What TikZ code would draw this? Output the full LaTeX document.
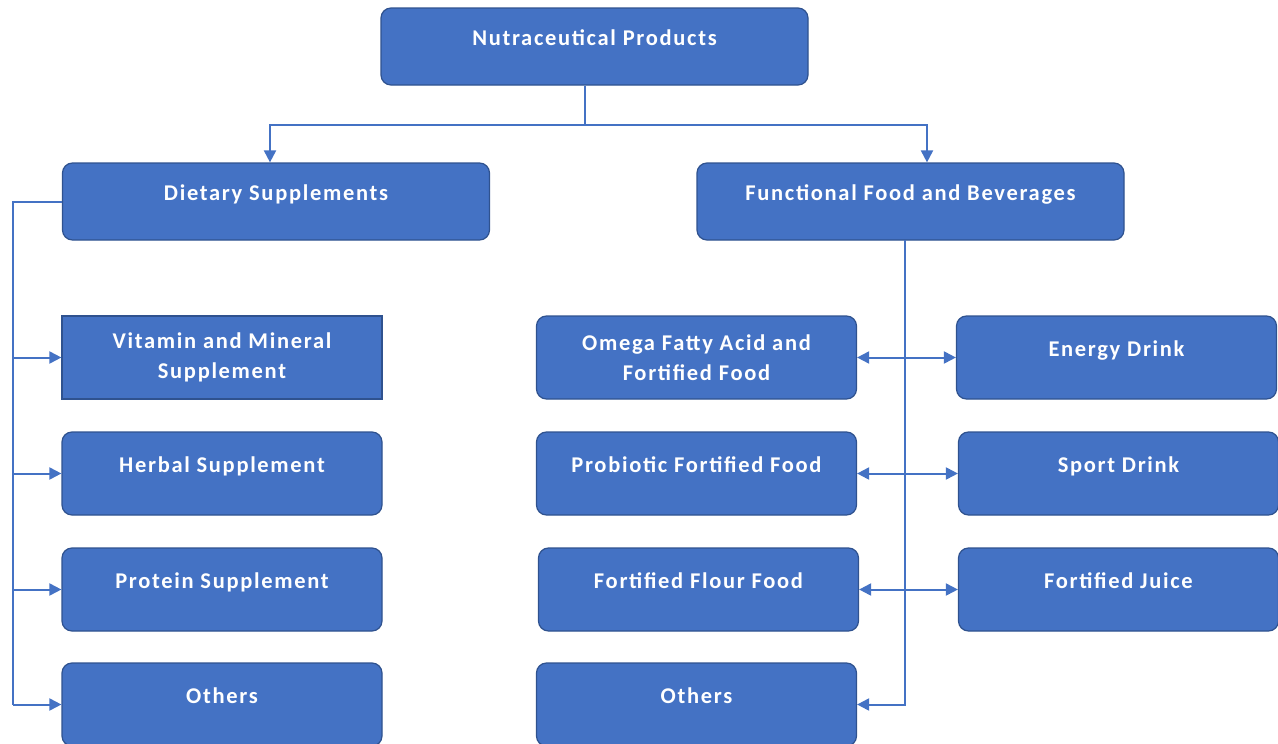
\documentclass[tikz,border=0pt]{standalone}
\usepackage{fontspec}
\setmainfont{Carlito}
\newfontfamily\boxfont{Carlito}[LetterSpace=7.5]
\usetikzlibrary{arrows.meta}
\definecolor{boxblue}{HTML}{4472C4}
\definecolor{edgeblue}{HTML}{2F528F}
\tikzset{
	box/.style={draw=edgeblue, fill=boxblue, line width=1.2pt, rounded corners=10pt, text=white,
		align=center, font=\boxfont\bfseries\fontsize{22.5}{30}\selectfont, minimum width=320pt, minimum height=83pt, inner sep=0pt},
	wide/.style={minimum width=427pt, minimum height=77pt},
	upper/.style={text depth=18pt},
	link/.style={draw=boxblue, line width=2pt},
	arrow/.style={link, -{Triangle[length=12pt,width=12pt]}},
	both/.style={link, {Triangle[length=12pt,width=12pt]}-{Triangle[length=12pt,width=12pt]}},
}
\begin{document}
\begin{tikzpicture}[x=1pt, y=-1pt]
		\useasboundingbox (0,0) rectangle (1278,744);

		% верхний уровень
		\node [box, wide, upper] (np) at ( 594.5, 46.5 ) {Nutraceutical Products};
		\node [box, wide, upper] (ds) at ( 276.0, 201.5 ) {Dietary Supplements};
		\node [box, wide, upper] (ffb) at ( 910.5, 201.5 ) {Functional Food and Beverages};

		% добавки
		\node [box, sharp corners] (vm) at ( 222.0, 357.5 ) {Vitamin and Mineral\\Supplement};
		\node [box, upper] (hs) at ( 222.0, 473.5 ) {Herbal Supplement};
		\node [box, upper] (ps) at ( 222.0, 589.5 ) {Protein Supplement};
		\node [box, upper] (ol) at ( 222.0, 704.5 ) {Others};

		% продукты
		\node [box] (ofa) at ( 696.5, 357.5 ) {Omega Fatty Acid and\\Fortified Food};
		\node [box, upper] (pff) at ( 696.5, 473.5 ) {Probiotic Fortified Food};
		\node [box, upper] (ffl) at ( 698.5, 589.5 ) {Fortified Flour Food};
		\node [box, upper] (or) at ( 696.5, 704.5 ) {Others};

		% напитки
		\node [box, upper] (ed) at ( 1116.5, 357.5 ) {Energy Drink};
		\node [box, upper] (sd) at ( 1118.5, 473.5 ) {Sport Drink};
		\node [box, upper] (fj) at ( 1118.5, 589.5 ) {Fortified Juice};

		% связи
		\coordinate (split) at ( 585, 125 );
		\coordinate (lt) at ( 13, 201.5 );
		\coordinate (rt) at ( 905, 240 );

		\draw [link] (split |- np.south) -- (split);
		\draw [arrow] (split) -| ([xshift=-6pt]ds.north);
		\draw [arrow] (split) -| ([xshift=16.5pt]ffb.north);

		\draw [link] (ds.west) -- (lt) -- (lt |- ol.west);
		\draw [arrow] (lt |- vm.west) -- (vm.west);
		\draw [arrow] (lt |- hs.west) -- (hs.west);
		\draw [arrow] (lt |- ps.west) -- (ps.west);
		\draw [arrow] (lt |- ol.west) -- (ol.west);

		\draw [arrow] (rt) |- (or.east);
		\draw [both] (ofa.east) -- (ed.west);
		\draw [both] (pff.east) -- (sd.west);
		\draw [both] (ffl.east) -- (fj.west);
\end{tikzpicture}
\end{document}
